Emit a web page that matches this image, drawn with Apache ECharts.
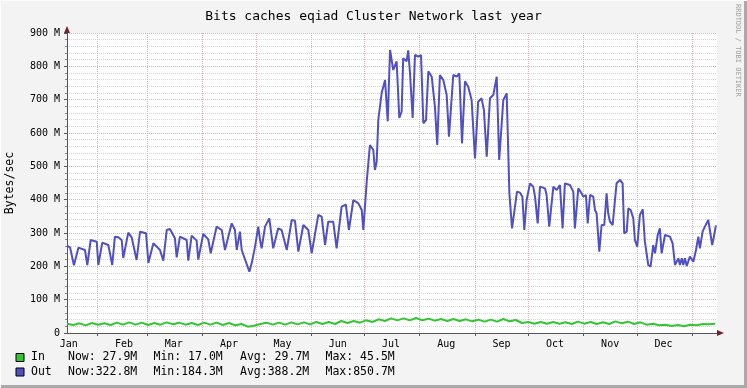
<!DOCTYPE html>
<html>
<head>
<meta charset="utf-8">
<title>Bits caches eqiad Cluster Network last year</title>
<script src="https://cdn.jsdelivr.net/npm/echarts@6.0.0/dist/echarts.min.js"></script>
<style>
    html, body { margin: 0; padding: 0; background: #f3f3f3; }
    #chart { width: 747px; height: 388px; }
</style>
</head>
<body>
<div id="chart"></div>
<script>
    // x = days counted from Jan 15 (start of the "last year" window)
    var monthNames = ['Jan', 'Feb', 'Mar', 'Apr', 'May', 'Jun', 'Jul', 'Aug', 'Sep', 'Oct', 'Nov', 'Dec'];
    var monthLabelDays = [1, 32, 60, 91, 121, 152, 182, 213, 244, 274, 305, 335];
    var monthStartDays = [17, 45, 76, 106, 137, 167, 198, 229, 259, 290, 320, 351];

    // Out traffic (M bytes/sec)
    var outDays = [0, 1.7, 3.9, 6.4, 7.3, 10.1, 11.4, 13.3, 16.7, 17.6, 19.8, 23.2, 25.4, 26.9, 28.8, 30.7, 31.6,
        34.4, 36.3, 39.1, 41, 44.4, 45.7, 48.5, 50.4, 52.2, 54.1, 56, 57.8, 60.6, 61.6, 63.4, 67.2, 68.1, 70, 72.8,
        73.7, 76.5, 79.3, 80.7, 84, 86.9, 88.7, 92.5, 94.3, 95.3, 97.1, 98.1, 102.4, 103.7, 105.6, 107.4, 108.4,
        109.3, 111.2, 113.6, 115.8, 118.6, 120.5, 123.4, 126.2, 128, 129.9, 132.7, 135.5, 137.4, 141.1, 143, 144.9,
        146.7, 149.5, 151.4, 154.2, 156.6, 158.3, 160.8, 163.6, 165.5, 166.4, 168.3, 170.1, 172, 172.9, 173.9, 174.8,
        176.7, 178.6, 179.5, 180.1, 181.4, 183.2, 185.1, 186.6, 187.9, 188.8, 190.7, 191.6, 192.6, 194.1, 195.4,
        197.2, 198.8, 200.1, 201.6, 202.9, 204.8, 206.6, 207.9, 209.4, 211.3, 213.2, 214.5, 216.9, 218.8, 220.3,
        221.8, 223.5, 225.3, 227.2, 229.1, 230.9, 232.8, 234.1, 235.7, 237.5, 239.4, 241.3, 242.7, 245, 246.9,
        248.4, 249.9, 252.7, 254.4, 255.7, 256.8, 258.1, 260, 261.8, 262.8, 264.3, 265.6, 268.4, 269.3, 270.8,
        273.1, 275, 276.8, 278.3, 279.6, 282.4, 284.3, 285.2, 287.1, 289, 289.9, 291.4, 292.4, 293.7, 295.5, 296.5,
        297.4, 298.9, 300.2, 301.7, 303, 303.9, 304.9, 306.4, 308.6, 310.5, 312, 312.9, 314.3, 315.2, 316.5, 318,
        318.9, 320.2, 321.7, 323.3, 324.5, 325.5, 326.4, 327.7, 329.2, 330.2, 331.7, 332.9, 333.9, 335.8, 336.7,
        338.6, 340.1, 341.4, 343.3, 344.2, 345.2, 346.1, 347, 348, 349.8, 351.7, 353.2, 354.5, 355.4, 356.9, 358.2,
        360.1, 361.1, 362.3, 362.9, 364.4];
    var outVals = [262, 257, 203, 256, 259, 249, 204, 279, 274, 204, 271, 264, 204, 289, 287, 279, 225,
        301, 287, 219, 304, 299, 210, 269, 259, 249, 217, 309, 312, 284, 227, 289, 279, 217, 292, 277,
        220, 297, 281, 239, 319, 309, 249, 329, 309, 249, 304, 249, 184, 209, 259, 319, 279,
        254, 319, 344, 254, 314, 309, 249, 339, 337, 244, 324, 309, 239, 354, 349, 264,
        334, 334, 254, 379, 385, 309, 399, 389, 369, 309, 454, 564, 549, 489, 514, 639,
        720, 759, 754, 635, 849, 789, 815, 645, 664, 824, 815, 848, 780, 645, 834,
        829, 834, 629, 639, 785, 769, 679, 564, 774, 759, 714, 589, 774, 769, 779,
        569, 755, 739, 699, 524, 694, 704, 669, 529, 704, 714, 769, 519, 699, 719,
        420, 314, 424, 421, 409, 309, 399, 449, 439, 409, 329, 439, 434, 414, 319,
        439, 429, 444, 314, 449, 444, 424, 314, 434, 419, 409, 414, 329, 414, 409, 369,
        359, 244, 324, 324, 419, 359, 334, 324, 449, 459, 449, 299, 304, 374, 369, 344,
        279, 259, 354, 371, 274, 269, 204, 199, 264, 239, 294, 314, 239, 294, 299,
        289, 269, 204, 224, 204, 224, 204, 224, 201, 229, 214, 249, 289, 254, 304, 319,
        339, 334, 264, 279, 323];

    // In traffic (M bytes/sec)
    var inDays = [0, 3.5, 7, 10.5, 14, 17.5, 21, 24.5, 28, 31.5, 35, 38.5, 42, 45.5, 49, 52.5, 56, 59.5, 63, 66.5,
        70, 73.5, 77, 80.5, 84, 87.5, 91, 94.5, 98, 101.5, 105, 108.5, 112, 115.5, 119, 122.5, 126, 129.5, 133,
        136.5, 140, 143.5, 147, 150.5, 154, 157.5, 161, 164.5, 168, 171.5, 175, 178.5, 182, 185.5, 189, 192.5, 196,
        199.5, 203, 206.5, 210, 213.5, 217, 220.5, 224, 227.5, 231, 234.5, 238, 241.5, 245, 248.5, 252, 255.5, 259,
        262.5, 266, 269.5, 273, 276.5, 280, 283.5, 287, 290.5, 294, 297.5, 301, 304.5, 308, 311.5, 315, 318.5, 322,
        325.5, 329, 332.5, 336, 339.5, 343, 346.5, 350, 353.5, 357, 360.5, 364];
    var inVals = [28, 24, 29, 23, 30, 25, 29, 24, 31, 25, 32, 25, 31, 24, 30, 25, 32, 26, 31, 25,
        30, 24, 31, 25, 31, 24, 30, 23, 27, 19, 22, 27, 31, 25, 31, 25, 32, 26, 32,
        26, 33, 27, 33, 27, 36, 30, 36, 31, 38, 33, 41, 36, 44, 38, 44, 38, 45,
        38, 43, 37, 42, 36, 42, 36, 41, 35, 40, 34, 40, 34, 42, 35, 39, 30, 33,
        28, 33, 28, 33, 28, 32, 27, 34, 28, 33, 27, 32, 27, 35, 29, 34, 27, 32,
        25, 28, 23, 25, 21, 24, 20, 25, 23, 27, 26, 28];

    var inStats = ['Now: 27.9M', 'Min: 17.0M', 'Avg: 29.7M', 'Max: 45.5M'];
    var outStats = ['Now:322.8M', 'Min:184.3M', 'Avg:388.2M', 'Max:850.7M'];

    var inColor = '#33c633';
    var outColor = '#5050c4';
    var mono = 'DejaVu Sans Mono';

    function pairs(xs, ys) {
        return xs.map(function (x, i) { return [x, ys[i]]; });
    }

    function legendRow(y, color, name, stats) {
        var cols = [68, 153.5, 240, 325.5];
        var els = [
            {type: 'rect', shape: {x: 16, y: y - 4, width: 8, height: 8},
                style: {fill: color, stroke: '#000', lineWidth: 1}},
            {type: 'text', x: 31, y: y, style: {text: name, font: '11.5px ' + mono, fill: '#000', textVerticalAlign: 'middle'}}
        ];
        stats.forEach(function (s, i) {
            els.push({type: 'text', x: cols[i], y: y,
                style: {text: s, font: '11.5px ' + mono, fill: '#000', textVerticalAlign: 'middle'}});
        });
        return els;
    }

    var myChart = echarts.init(document.getElementById('chart'));

    var option = {
        animation: false,
        backgroundColor: '#f3f3f3',
        title: {
            text: 'Bits caches eqiad Cluster Network last year',
            left: 'center',
            top: 5,
            textStyle: {fontFamily: mono, fontSize: 13, fontWeight: 'normal', color: '#000'}
        },
        grid: {
            left: 67, right: 30, top: 33, bottom: 55,
            show: true, backgroundColor: '#fff', borderWidth: 0
        },
        xAxis: {
            type: 'value',
            min: 0,
            max: 365,
            axisLine: {lineStyle: {color: '#555', width: 1}},
            axisTick: {show: true, length: 3, customValues: monthStartDays, lineStyle: {color: '#555'}},
            axisLabel: {
                customValues: monthLabelDays,
                fontFamily: mono, fontSize: 10, color: '#000', margin: 6,
                formatter: function (v) { return monthNames[monthLabelDays.indexOf(v)]; }
            },
            splitLine: {show: true, lineStyle: {color: '#e2b2b2', type: 'dotted', width: 1}}
        },
        yAxis: {
            type: 'value',
            min: 0,
            max: 900,
            interval: 100,
            axisLine: {show: true, lineStyle: {color: '#555', width: 1}},
            axisTick: {show: true, length: 3, lineStyle: {color: '#555'}},
            minorTick: {show: true, splitNumber: 5, length: 2, lineStyle: {color: '#888'}},
            axisLabel: {
                fontFamily: mono, fontSize: 10, color: '#000', margin: 7,
                formatter: function (v) { return v === 0 ? '0' : v + ' M'; }
            },
            splitLine: {show: true, lineStyle: {color: '#cfb8b8', type: 'dotted', width: 1}},
            minorSplitLine: {show: true, lineStyle: {color: '#d6d6d6', type: 'dotted', width: 1}}
        },
        series: [
            {
                name: 'In', type: 'line', data: pairs(inDays, inVals),
                showSymbol: false, lineStyle: {color: inColor, width: 2}, z: 3
            },
            {
                name: 'Out', type: 'line', data: pairs(outDays, outVals),
                showSymbol: false, lineStyle: {color: outColor, width: 2}, z: 4
            }
        ],
        graphic: [
            // frame
            {type: 'rect', shape: {x: 744, y: 0, width: 3, height: 388}, style: {fill: '#a9a9a9'}},
            {type: 'rect', shape: {x: 0, y: 385, width: 747, height: 3}, style: {fill: '#a9a9a9'}},
            {type: 'rect', shape: {x: 0, y: 0, width: 747, height: 1}, style: {fill: '#fcfcfc'}},
            {type: 'rect', shape: {x: 0, y: 0, width: 1, height: 388}, style: {fill: '#fcfcfc'}},
            // axis arrows
            {type: 'polygon', shape: {points: [[64, 33], [70, 33], [67, 26]]}, style: {fill: '#7a1f2a'}},
            {type: 'polygon', shape: {points: [[717, 330], [717, 336], [724, 333]]}, style: {fill: '#7a1f2a'}},
            // y axis name
            {type: 'text', x: 10, y: 183, rotation: Math.PI / 2,
                style: {text: 'Bytes/sec', font: '11.5px ' + mono, fill: '#000', textAlign: 'center', textVerticalAlign: 'middle'}},
            // watermark
            {type: 'text', x: 738, y: 4, rotation: -Math.PI / 2,
                style: {text: 'RRDTOOL / TOBI OETIKER', font: '7px ' + mono, fill: '#a0a0a0', textAlign: 'left', textVerticalAlign: 'middle'}}
        ].concat(legendRow(357.5, inColor, 'In', inStats), legendRow(372, outColor, 'Out', outStats))
    };

    myChart.setOption(option);
</script>
</body>
</html>
